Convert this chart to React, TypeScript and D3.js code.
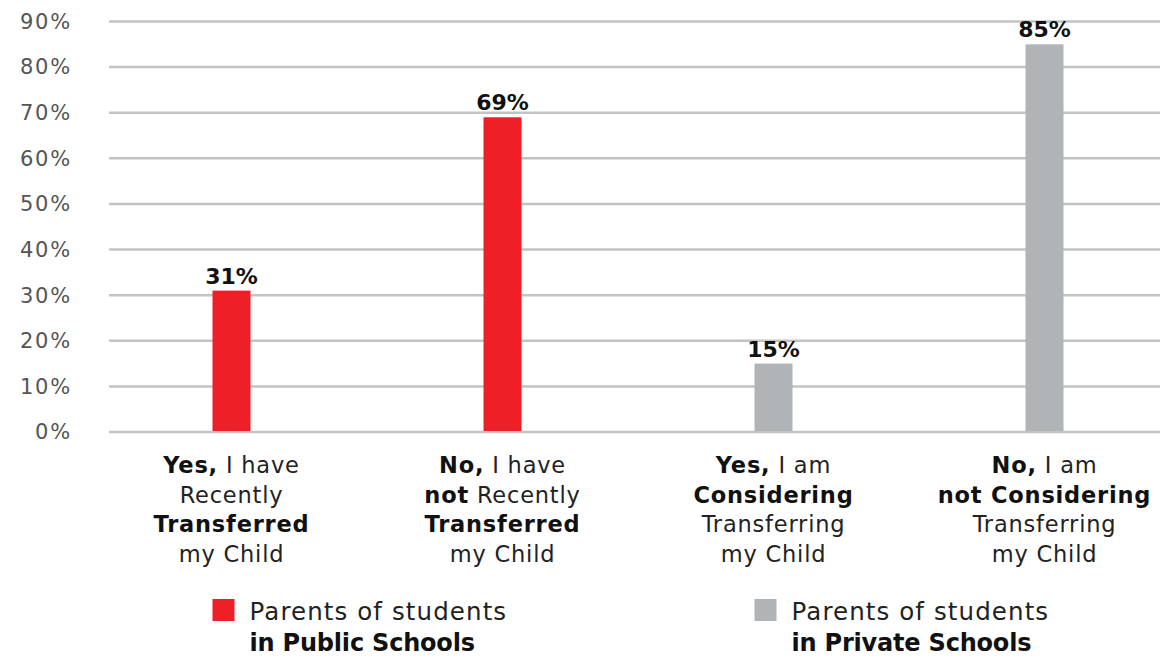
import React from "react";
import * as d3 from "d3";

const categories = ["c1", "c2", "c3", "c4"];
const values = [31, 69, 15, 85];
const groups = ["public", "public", "private", "private"];
const valueLabels = ["31%", "69%", "15%", "85%"];
const yTicks = [0, 10, 20, 30, 40, 50, 60, 70, 80, 90];
// each label line: array of [text, bold]
const catLabels: [string, boolean][][][] = [
  [[["Yes,", true], [" I have", false]], [["Recently", false]], [["Transferred", true]], [["my Child", false]]],
  [[["No,", true], [" I have", false]], [["not", true], [" Recently", false]], [["Transferred", true]], [["my Child", false]]],
  [[["Yes,", true], [" I am", false]], [["Considering", true]], [["Transferring", false]], [["my Child", false]]],
  [[["No,", true], [" I am", false]], [["not Considering", true]], [["Transferring", false]], [["my Child", false]]],
];
const legendKeys = ["public", "private"];
const legendLine1 = ["Parents of students", "Parents of students"];
const legendLine2 = ["in Public Schools", "in Private Schools"];

const colors: Record<string, string> = { public: "#ee1f26", private: "#b1b4b6" };
const FONT = "'DejaVu Sans', sans-serif";

export default function App() {
  const W = 1160, H = 661;
  const y = d3.scaleLinear().domain([0, 90]).range([432, 21.5]);
  const x = d3.scaleBand().domain(categories).range([96, 1180]).paddingInner(0).paddingOuter(0);
  const barW = 38;
  const legendX = [x("c1")! + x.bandwidth() / 2 - 19, x("c3")! + x.bandwidth() / 2 - 19];
  return (
    <svg width={W} height={H} style={{ position: "absolute", left: 0, top: 0, fontFamily: FONT }}>
      {yTicks.map((t) => (
        <g key={t}>
          <line x1={109} x2={1160} y1={y(t)} y2={y(t)} stroke="#c3c3c3" strokeWidth={2.5} />
          <text x={72} y={y(t)} dy="0.35em" textAnchor="end" fontSize={21} letterSpacing={1.8} fill="#555">
            {t}%
          </text>
        </g>
      ))}
      {categories.map((c, i) => {
        const cx = x(c)! + x.bandwidth() / 2;
        return (
          <g key={c}>
            <rect x={cx - barW / 2} y={y(values[i])} width={barW} height={y(0) - y(values[i]) - 1} fill={colors[groups[i]]} />
            <text x={cx} y={y(values[i]) - 7} textAnchor="middle" fontSize={22} fontWeight={700} fill="#111">
              {valueLabels[i]}
            </text>
            {catLabels[i].map((line, li) => (
              <text key={li} x={cx} y={473 + li * 29.5} textAnchor="middle" fontSize={22.5} letterSpacing={0.8} fill="#222">
                {line.map(([s, b], k) => (
                  <tspan key={k} fontWeight={b ? 700 : 400} fill={b ? "#111" : "#222"}>
                    {s}
                  </tspan>
                ))}
              </text>
            ))}
          </g>
        );
      })}
      {legendKeys.map((k, i) => (
        <g key={k}>
          <rect x={legendX[i]} y={599} width={22} height={22} fill={colors[k]} />
          <text x={legendX[i] + 37} y={620} fontSize={24.5} letterSpacing={1.1} fill="#222">
            {legendLine1[i]}
          </text>
          <text x={legendX[i] + 37} y={651} fontSize={24} fontWeight={700} letterSpacing={-0.2} fill="#111">
            {legendLine2[i]}
          </text>
        </g>
      ))}
    </svg>
  );
}
